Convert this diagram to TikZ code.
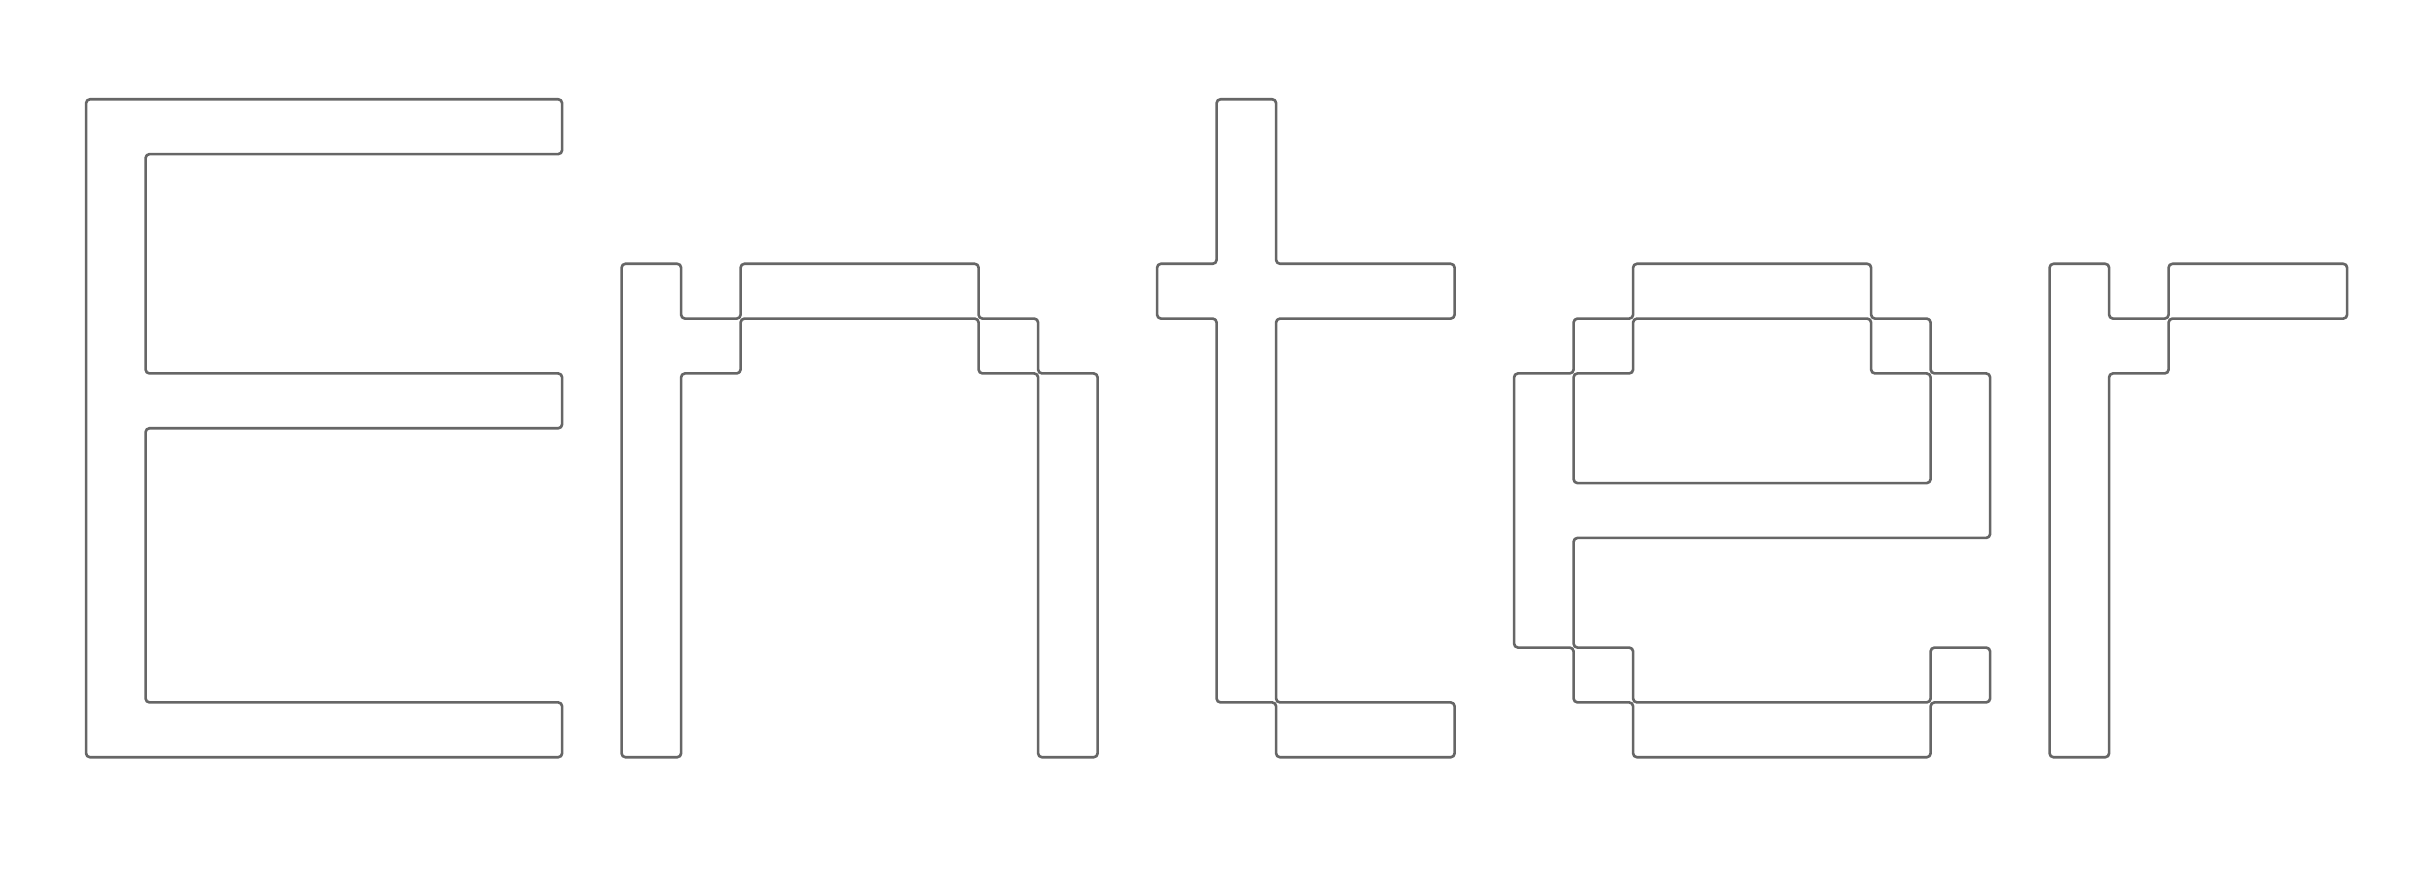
\documentclass[tikz,border=0pt]{standalone}
\usepackage{tikz}
\definecolor{glyphline}{HTML}{666666}
\tikzset{glyph/.style={draw=glyphline, line width=0.75pt, rounded corners=1.1pt, line join=round}}
\begin{document}
\begin{tikzpicture}
\fill[white] (0,0) rectangle (24.12cm,-8.76cm);
\useasboundingbox (0,0) rectangle (24.12cm,-8.76cm);
\begin{scope}[shift={(0.861cm,-0.993cm)}, x=0.595cm, y=-0.5483cm]
% E
\draw[glyph] (0,0) -- (8,0) -- (8,1) -- (1,1) -- (1,5) -- (8,5) -- (8,6) -- (1,6) -- (1,11) -- (8,11) -- (8,12) -- (0,12) -- cycle;
% n
\draw[glyph] (9,3) -- (10,3) -- (10,4) -- (11,4) -- (11,3) -- (15,3) -- (15,4) -- (16,4) -- (16,5) -- (17,5) -- (17,12) -- (16,12) -- (16,5) -- (15,5) -- (15,4) -- (11,4) -- (11,5) -- (10,5) -- (10,12) -- (9,12) -- cycle;
% t
\draw[glyph] (19,0) -- (20,0) -- (20,3) -- (23,3) -- (23,4) -- (20,4) -- (20,11) -- (23,11) -- (23,12) -- (20,12) -- (20,11) -- (19,11) -- (19,4) -- (18,4) -- (18,3) -- (19,3) -- cycle;
% e outer
\draw[glyph] (26,3) -- (30,3) -- (30,4) -- (31,4) -- (31,5) -- (32,5) -- (32,8) -- (25,8) -- (25,10) -- (26,10) -- (26,11) -- (31,11) -- (31,10) -- (32,10) -- (32,11) -- (31,11) -- (31,12) -- (26,12) -- (26,11) -- (25,11) -- (25,10) -- (24,10) -- (24,5) -- (25,5) -- (25,4) -- (26,4) -- cycle;
% e hole
\draw[glyph] (26,4) -- (30,4) -- (30,5) -- (31,5) -- (31,7) -- (25,7) -- (25,5) -- (26,5) -- cycle;
% r
\draw[glyph] (33,3) -- (34,3) -- (34,4) -- (35,4) -- (35,3) -- (38,3) -- (38,4) -- (35,4) -- (35,5) -- (34,5) -- (34,12) -- (33,12) -- cycle;
\end{scope}
\end{tikzpicture}
\end{document}
